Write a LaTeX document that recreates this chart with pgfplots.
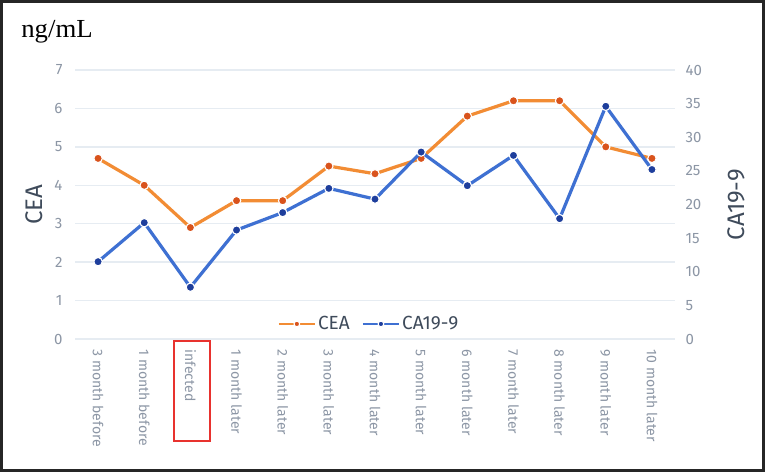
\documentclass[border=0pt]{standalone}
\usepackage{fontspec}
\setmainfont{Fira Sans}
\newfontfamily\serifT{Liberation Serif}
\usepackage{pgfplots}
\pgfplotsset{compat=1.18}

\definecolor{ceaLine}{HTML}{F28C34}
\definecolor{ceaMark}{HTML}{D9531C}
\definecolor{caLine}{HTML}{3E70D2}
\definecolor{caMark}{HTML}{1E3E9C}
\definecolor{tickGray}{HTML}{8C96A5}
\definecolor{titleSlate}{HTML}{3F4B5B}
\definecolor{gridC}{HTML}{E6ECF2}
\definecolor{boxRed}{HTML}{E8322E}

\pgfplotsset{
  base/.style={
    scale only axis,
    width=600pt, height=269pt,
    at={(75pt,133pt)}, anchor=south west,
    xmin=-0.5, xmax=12.5,
    ymin=0,
    axis line style={draw=none},
    major tick length=0pt,
    /pgf/number format/assume math mode=true,
    tick label style={text=tickGray, font=\fontsize{15}{18}\selectfont},
    label style={text=titleSlate, font=\fontsize{24}{28}\selectfont},
    clip=false,
  },
  ceaStyle/.style={ceaLine, line width=3.2pt, mark=*, mark size=4.2pt,
    mark options={fill=ceaMark, draw=white, line width=1.1pt}},
  caStyle/.style={caLine, line width=3.2pt, mark=*, mark size=4.2pt,
    mark options={fill=caMark, draw=white, line width=1.1pt}},
}

\begin{document}
\begin{tikzpicture}
\path[use as bounding box] (0pt,0pt) rectangle (765pt,472pt);
\fill[white] (0pt,0pt) rectangle (765pt,472pt);

\begin{axis}[base,
  ymax=7, ytick={0,1,...,7},
  ymajorgrids, grid style={gridC, line width=1.3pt},
  xtick={0,...,12},
  xticklabels={3 month before,1 month before,infected,1 month later,2 month later,3 month later,4 month later,5 month later,6 month later,7 month later,8 month later,9 month later,10 month later},
  xticklabel style={rotate=-90, anchor=west, font=\fontsize{14}{17}\selectfont, xshift=7pt},
  yticklabel style={xshift=-9pt},
  ylabel={CEA},
  ylabel style={at={(axis description cs:-0.068,0.5)}, anchor=center},
]
\addplot[ceaStyle] coordinates {
  (0,4.7) (1,4.0) (2,2.9) (3,3.6) (4,3.6) (5,4.5) (6,4.3)
  (7,4.7) (8,5.8) (9,6.2) (10,6.2) (11,5.0) (12,4.7)
};
\end{axis}

\begin{axis}[base,
  ymax=40, ytick={0,5,...,40},
  axis y line*=right,
  xtick=\empty,
  yticklabel style={xshift=7pt},
  ylabel={CA19-9},
  ylabel style={at={(axis description cs:1.102,0.5)}, anchor=center, rotate=0},
  legend style={at={(0.49,0.056)}, anchor=center, draw=none, fill=none,
    text=titleSlate, font=\fontsize{19}{22}\selectfont,
    legend columns=2, /tikz/every even column/.append style={column sep=10pt}},
  legend image code/.code={
    \draw[#1, line width=2.4pt, mark size=2.8pt, mark repeat=2, mark phase=2]
      plot coordinates {(0pt,0pt) (18pt,0pt) (36pt,0pt)};},
]
\addlegendimage{ceaStyle}
\addlegendentry{CEA}
\addplot[caStyle] coordinates {
  (0,11.5) (1,17.3) (2,7.7) (3,16.2) (4,18.8) (5,22.4) (6,20.8)
  (7,27.8) (8,22.8) (9,27.3) (10,17.9) (11,34.6) (12,25.2)
};
\addlegendentry{CA19-9}
\end{axis}

\node[font=\serifT\fontsize{26}{30}\selectfont, xscale=1.03] at (57pt,440pt) {ng/mL};
\draw[boxRed, line width=1.3pt] (174pt,31pt) rectangle (210pt,131pt);
\draw[black!85, line width=2.2pt] (1.5pt,1.5pt) rectangle (763.5pt,470.5pt);
\end{tikzpicture}
\end{document}
